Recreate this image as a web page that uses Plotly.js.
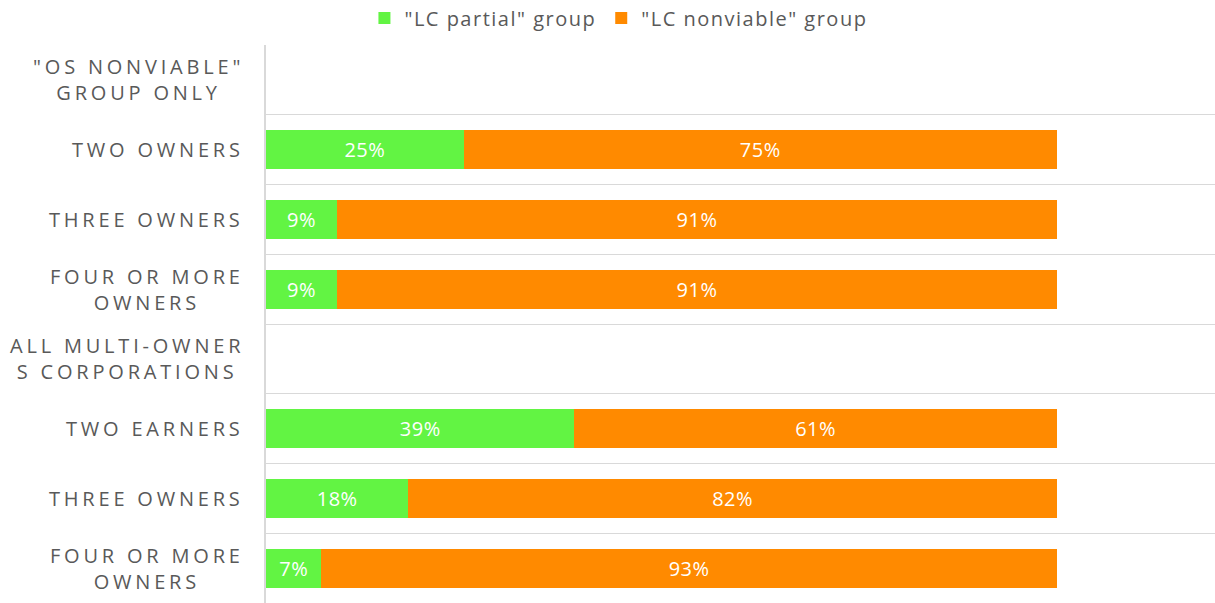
<!DOCTYPE html>
<html>
<head>
<meta charset="utf-8">
<script src="https://cdn.plot.ly/plotly-3.0.1.min.js"></script>
<style>
  html, body { margin: 0; padding: 0; background: #fff; }
  #chart { width: 1215px; height: 603px; }
  .annotation-text { letter-spacing: 3.8px; }
  .legendtext { letter-spacing: 1.5px; }
  .bartext { letter-spacing: 0.5px; }
</style>
</head>
<body>
<div id="chart"></div>
<script>
// Category labels (top to bottom)
const categoryLabels = [
  '"OS NONVIABLE"<br>GROUP ONLY',
  'TWO OWNERS',
  'THREE OWNERS',
  'FOUR OR MORE<br>OWNERS',
  'ALL MULTI-OWNER<br>S CORPORATIONS',
  'TWO EARNERS',
  'THREE OWNERS',
  'FOUR OR MORE<br>OWNERS'
];
const rowIndex = [0, 1, 2, 3, 4, 5, 6, 7];

// Series values (percent); null = heading row with no bar
const lcPartial    = [null, 25, 9, 9, null, 39, 18, 7];
const lcNonviable  = [null, 75, 91, 91, null, 61, 82, 93];

const seriesNames = ['"LC partial" group', '"LC nonviable" group'];
const seriesColors = ['#62f443', '#ff8a00'];

const textColor = '#595959';
const gridColor = '#d9d9d9';

function barTrace(values, name, color) {
  return {
    type: 'bar',
    orientation: 'h',
    y: rowIndex,
    x: values,
    name: name,
    marker: { color: color, line: { width: 0 } },
    width: 0.56,
    text: values.map(v => v == null ? '' : v + '%'),
    texttemplate: '%{text}',
    textposition: 'inside',
    insidetextanchor: 'middle',
    constraintext: 'none',
    textfont: { family: 'Open Sans', size: 20, color: '#ffffff' },
    hoverinfo: 'skip'
  };
}

const data = [
  barTrace(lcPartial, seriesNames[0], seriesColors[0]),
  barTrace(lcNonviable, seriesNames[1], seriesColors[1])
];

const gridVals = [];
for (let i = 0; i <= rowIndex.length; i++) gridVals.push(i - 0.5);

const annotations = categoryLabels.map((lab, i) => ({
  xref: 'paper', yref: 'y',
  x: 0, y: rowIndex[i],
  xanchor: 'right', yanchor: 'middle',
  xshift: -20,
  text: lab,
  align: 'center',
  showarrow: false,
  font: { family: 'Open Sans', size: 20, color: textColor }
}));

const layout = {
  width: 1215,
  height: 603,
  margin: { l: 266, r: 0, t: 45, b: 0, pad: 0 },
  paper_bgcolor: '#ffffff',
  plot_bgcolor: '#ffffff',
  barmode: 'stack',
  bargap: 0.44,
  font: { family: 'Open Sans', color: textColor },
  showlegend: true,
  legend: {
    orientation: 'h',
    xref: 'container', yref: 'container',
    x: 0.509, xanchor: 'center',
    y: 0.97, yanchor: 'middle',
    font: { family: 'Open Sans', size: 20, color: textColor },
    traceorder: 'normal',
    itemclick: false, itemdoubleclick: false
  },
  xaxis: {
    range: [0, 120],
    showgrid: false,
    zeroline: false,
    showticklabels: false,
    ticks: '',
    showline: false,
    fixedrange: true
  },
  yaxis: {
    range: [7.5, -0.5],
    tickvals: gridVals,
    showticklabels: false,
    ticks: '',
    showgrid: true,
    gridcolor: gridColor,
    gridwidth: 1,
    zeroline: false,
    showline: true,
    linecolor: gridColor,
    linewidth: 2,
    fixedrange: true
  },
  annotations: annotations
};

Plotly.newPlot('chart', data, layout, { displayModeBar: false, staticPlot: true });
</script>
</body>
</html>
